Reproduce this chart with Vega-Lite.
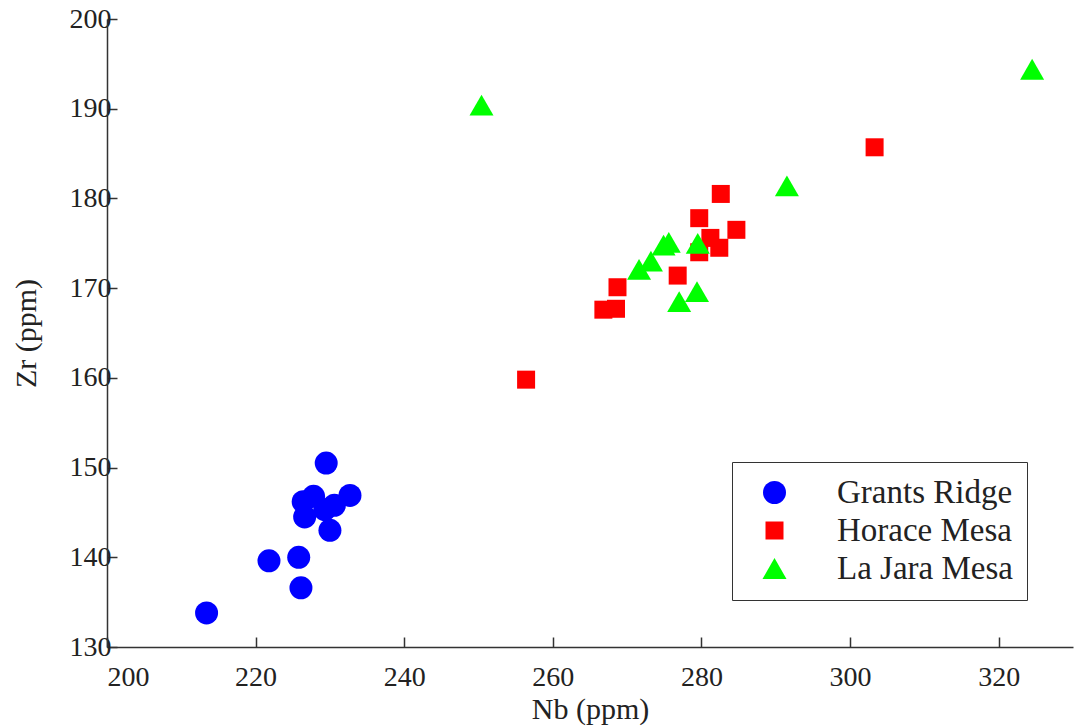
{
  "$schema": "https://vega.github.io/schema/vega-lite/v6.json",
  "width": 966,
  "height": 628,
  "autosize": {"type": "none"},
  "padding": {"left": 107, "top": 19, "right": 4, "bottom": 81},
  "background": "white",
  "config": {
    "view": {"stroke": null},
    "font": "Liberation Serif",
    "axis": {
      "grid": false,
      "domainColor": "#333333",
      "domainWidth": 1.5,
      "tickColor": "#333333",
      "tickWidth": 1.5,
      "tickSize": -10,
      "labelFont": "Liberation Serif",
      "labelFontSize": 28,
      "labelColor": "#222222",
      "titleFont": "Liberation Serif",
      "titleFontSize": 30,
      "titleFontWeight": "normal",
      "titleColor": "#222222"
    },
    "legend": {
      "labelFont": "Liberation Serif",
      "labelFontSize": 33,
      "labelColor": "#222222",
      "labelLimit": 500
    }
  },
  "data": {
    "values": [
      {"group": "Grants Ridge", "Nb": 229.5, "Zr": 150.5},
      {"group": "Grants Ridge", "Nb": 232.7, "Zr": 146.9},
      {"group": "Grants Ridge", "Nb": 226.4, "Zr": 146.2},
      {"group": "Grants Ridge", "Nb": 227.8, "Zr": 146.8},
      {"group": "Grants Ridge", "Nb": 226.6, "Zr": 144.5},
      {"group": "Grants Ridge", "Nb": 230.6, "Zr": 145.8},
      {"group": "Grants Ridge", "Nb": 229.3, "Zr": 145.3},
      {"group": "Grants Ridge", "Nb": 230.0, "Zr": 143.0},
      {"group": "Grants Ridge", "Nb": 221.8, "Zr": 139.6},
      {"group": "Grants Ridge", "Nb": 225.8, "Zr": 140.0},
      {"group": "Grants Ridge", "Nb": 226.1, "Zr": 136.6},
      {"group": "Grants Ridge", "Nb": 213.4, "Zr": 133.8},
      {"group": "Horace Mesa", "Nb": 256.4, "Zr": 159.8},
      {"group": "Horace Mesa", "Nb": 266.8, "Zr": 167.6},
      {"group": "Horace Mesa", "Nb": 268.5, "Zr": 167.7},
      {"group": "Horace Mesa", "Nb": 268.7, "Zr": 170.1},
      {"group": "Horace Mesa", "Nb": 276.8, "Zr": 171.4},
      {"group": "Horace Mesa", "Nb": 279.7, "Zr": 177.8},
      {"group": "Horace Mesa", "Nb": 282.6, "Zr": 180.5},
      {"group": "Horace Mesa", "Nb": 281.2, "Zr": 175.6},
      {"group": "Horace Mesa", "Nb": 282.4, "Zr": 174.5},
      {"group": "Horace Mesa", "Nb": 284.7, "Zr": 176.5},
      {"group": "Horace Mesa", "Nb": 279.7, "Zr": 174.0},
      {"group": "Horace Mesa", "Nb": 303.3, "Zr": 185.7},
      {"group": "La Jara Mesa", "Nb": 250.4, "Zr": 190.4},
      {"group": "La Jara Mesa", "Nb": 324.5, "Zr": 194.4},
      {"group": "La Jara Mesa", "Nb": 291.5, "Zr": 181.4},
      {"group": "La Jara Mesa", "Nb": 275.6, "Zr": 175.1},
      {"group": "La Jara Mesa", "Nb": 274.9, "Zr": 174.8},
      {"group": "La Jara Mesa", "Nb": 273.2, "Zr": 173.0},
      {"group": "La Jara Mesa", "Nb": 271.6, "Zr": 172.1},
      {"group": "La Jara Mesa", "Nb": 279.5, "Zr": 175.0},
      {"group": "La Jara Mesa", "Nb": 279.4, "Zr": 169.6},
      {"group": "La Jara Mesa", "Nb": 277.0, "Zr": 168.5}
    ]
  },
  "mark": {"type": "point", "filled": true, "opacity": 1, "strokeWidth": 0},
  "encoding": {
    "x": {
      "field": "Nb", "type": "quantitative",
      "title": "Nb (ppm)",
      "scale": {"domain": [200, 330], "nice": false, "zero": false},
      "axis": {"values": [200, 220, 240, 260, 280, 300, 320], "labelPadding": 26, "titlePadding": 3}
    },
    "y": {
      "field": "Zr", "type": "quantitative",
      "title": "Zr (ppm)",
      "scale": {"domain": [130, 200], "nice": false, "zero": false},
      "axis": {"values": [130, 140, 150, 160, 170, 180, 190, 200], "labelPadding": 6, "titlePadding": 28}
    },
    "color": {
      "field": "group", "type": "nominal",
      "scale": {"domain": ["Grants Ridge", "Horace Mesa", "La Jara Mesa"], "range": ["#0000ff", "#ff0000", "#00ff00"]},
      "legend": {
        "title": null,
        "orient": "none",
        "legendX": 625,
        "legendY": 443,
        "padding": 14,
        "strokeColor": "#333333",
        "fillColor": "white",
        "symbolSize": 240,
        "symbolOffset": 12,
        "labelOffset": 46,
        "rowPadding": 4,
        "labelLimit": 500,
        "encode": {"legend": {"update": {"strokeWidth": {"value": 1.5}}}}
      }
    },
    "shape": {
      "field": "group", "type": "nominal",
      "scale": {"domain": ["Grants Ridge", "Horace Mesa", "La Jara Mesa"], "range": ["circle", "square", "triangle-up"]}
    },
    "size": {
      "field": "group", "type": "nominal",
      "scale": {"type": "ordinal", "domain": ["Grants Ridge", "Horace Mesa", "La Jara Mesa"], "range": [529, 324, 576]},
      "legend": null
    }
  }
}
